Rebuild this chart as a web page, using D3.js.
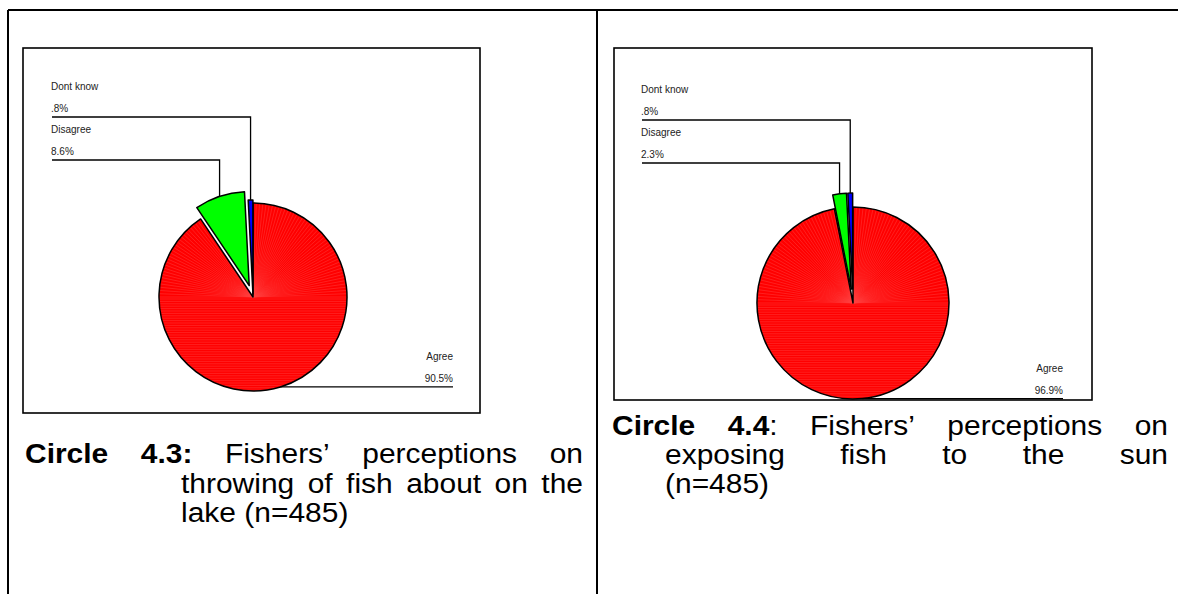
<!DOCTYPE html>
<html>
<head>
<meta charset="utf-8">
<script src="https://cdn.jsdelivr.net/npm/d3@7"></script>
<style>
  body { margin: 0; background: #fff; }
  svg { display: block; }
  text { font-family: "Liberation Sans", Arial, sans-serif; }
</style>
</head>
<body>
<svg id="chart" width="1178" height="594"></svg>
<script>
// Survey answers (n=485), percentages per answer
const categories = ["Agree", "Disagree", "Dont know"];
const throwingValues = [90.5, 8.6, 0.8];
const sunValues = [96.9, 2.3, 0.8];
const valueLabels43 = ["90.5%", "8.6%", ".8%"];
const valueLabels44 = ["96.9%", "2.3%", ".8%"];
const sliceColors = ["#ff0000", "#00ff00", "#0000ff"];

const svg = d3.select("#chart");
const labelFont = 10;
const captionFont = 28;
const captionStretch = 1.07;

// Table frame around both figures
const frame = svg.append("g").attr("stroke", "#000").attr("stroke-width", 2).attr("fill", "none");
frame.append("line").attr("x1", 8).attr("y1", 10).attr("x2", 1178).attr("y2", 10);
frame.append("line").attr("x1", 8).attr("y1", 10).attr("x2", 8).attr("y2", 594);
frame.append("line").attr("x1", 597).attr("y1", 10).attr("x2", 597).attr("y2", 594);

function drawPie(cfg) {
  const g = svg.append("g");
  // chart box
  g.append("rect")
    .attr("x", cfg.box[0]).attr("y", cfg.box[1])
    .attr("width", cfg.box[2] - cfg.box[0]).attr("height", cfg.box[3] - cfg.box[1])
    .attr("fill", "#fff").attr("stroke", "#000").attr("stroke-width", 1.6);

  const pie = d3.pie().sort(null).value(d => d.value);
  const data = categories.map((c, i) => ({ name: c, value: cfg.values[i], label: cfg.labels[i], color: sliceColors[i], explode: cfg.explode[i] }));
  const arcs = pie(data);
  const arc = d3.arc().innerRadius(0).outerRadius(cfg.r);

  const [cx, cy] = cfg.center;
  const pg = g.append("g").attr("transform", `translate(${cx},${cy})`);

  arcs.forEach((a, i) => {
    const mid = (a.startAngle + a.endAngle) / 2;
    const dx = Math.sin(mid) * a.data.explode;
    const dy = -Math.cos(mid) * a.data.explode;
    a.offset = [dx, dy];
    a.mid = mid;
    const sg = pg.append("g").attr("transform", `translate(${dx},${dy})`);
    const path = arc(a);
    sg.append("path").attr("d", path).attr("fill", a.data.color);

    if (i === 0) {
      // fine banding of the red fill: fan in the upper half, horizontal strokes below
      const clipId = "clip-" + cfg.id;
      sg.append("clipPath").attr("id", clipId).append("path").attr("d", path);
      const tex = sg.append("g").attr("clip-path", `url(#${clipId})`)
        .attr("stroke", "#ff6a6a").attr("stroke-width", 0.5).attr("opacity", 0.6);
      tex.selectAll("line.fan").data(d3.range(-90, 91, 2)).join("line")
        .attr("x1", 0).attr("y1", 0)
        .attr("x2", d => Math.sin(d * Math.PI / 180) * cfg.r * 1.1)
        .attr("y2", d => -Math.cos(d * Math.PI / 180) * cfg.r * 1.1);
      tex.selectAll("line.band").data(d3.range(2, cfg.r, 2.4)).join("line")
        .attr("x1", -cfg.r).attr("x2", cfg.r)
        .attr("y1", d => d).attr("y2", d => d);
    }
    sg.append("path").attr("d", path).attr("fill", "none")
      .attr("stroke", "#000").attr("stroke-width", 1.5).attr("stroke-linejoin", "round");
  });

  // leader lines and labels
  const lines = g.append("g").attr("stroke", "#000").attr("stroke-width", 1.3).attr("fill", "none");
  const txt = g.append("g").attr("fill", "#222").style("font-size", labelFont + "px");

  arcs.forEach((a, i) => {
    const px = cx + a.offset[0] + Math.sin(a.mid) * cfg.r;
    const py = cy + a.offset[1] - Math.cos(a.mid) * cfg.r;
    if (i === 0) {
      // label on the right, line along the bottom of the pie
      lines.append("path").attr("d", `M${px},${py}H${cfg.agreeX}`);
      txt.append("text").attr("x", cfg.agreeX).attr("y", py - 27).attr("text-anchor", "end").text(a.data.name);
      txt.append("text").attr("x", cfg.agreeX).attr("y", py - 5).attr("text-anchor", "end").text(a.data.label);
    } else {
      const ly = cfg.lineY[i];
      lines.append("path").attr("d", `M${cfg.labelX + 1},${ly}H${px}V${py}`);
      txt.append("text").attr("x", cfg.labelX).attr("y", ly - 27).text(a.data.name);
      txt.append("text").attr("x", cfg.labelX).attr("y", ly - 5).text(a.data.label);
    }
  });
}

drawPie({
  id: "c43", box: [23, 48, 480, 413], center: [253, 297], r: 94,
  values: throwingValues, labels: valueLabels43, explode: [0, 12, 3],
  labelX: 51, lineY: [0, 160, 117], agreeX: 453
});
drawPie({
  id: "c44", box: [614, 48, 1092, 400], center: [853, 303], r: 96,
  values: sunValues, labels: valueLabels44, explode: [0, 14, 14],
  labelX: 641, lineY: [0, 163, 120], agreeX: 1063
});

// Captions: justified lines, bold figure number
function captionLine(words, x0, x1, y, justify) {
  const g = svg.append("g").style("font-size", captionFont + "px").attr("fill", "#000");
  const nodes = words.map(w => {
    const wg = g.append("g");
    const t = wg.append("text");
    w.forEach(seg => t.append("tspan").attr("font-weight", seg.b ? "bold" : "normal").text(seg.t));
    return wg;
  });
  const widths = nodes.map(n => n.select("text").node().getComputedTextLength() * captionStretch);
  const total = d3.sum(widths);
  const gap = justify && words.length > 1 ? (x1 - x0 - total) / (words.length - 1) : captionFont * 0.278 * captionStretch;
  let x = x0;
  nodes.forEach((n, i) => {
    n.attr("transform", `translate(${x},${y}) scale(${captionStretch},1)`);
    x += widths[i] + gap;
  });
}
const W = s => [{ t: s }];
const B = s => [{ t: s, b: true }];

captionLine([B("Circle"), B("4.3:"), W("Fishers’"), W("perceptions"), W("on")], 25, 583, 463, true);
captionLine(["throwing", "of", "fish", "about", "on", "the"].map(W), 181, 583, 493, true);
captionLine(["lake", "(n=485)"].map(W), 181, 583, 522, false);

captionLine([B("Circle"), [{ t: "4.4", b: true }, { t: ":" }], W("Fishers’"), W("perceptions"), W("on")], 612, 1168, 435, true);
captionLine(["exposing", "fish", "to", "the", "sun"].map(W), 665, 1168, 464, true);
captionLine([W("(n=485)")], 665, 1168, 493, false);
</script>
</body>
</html>
